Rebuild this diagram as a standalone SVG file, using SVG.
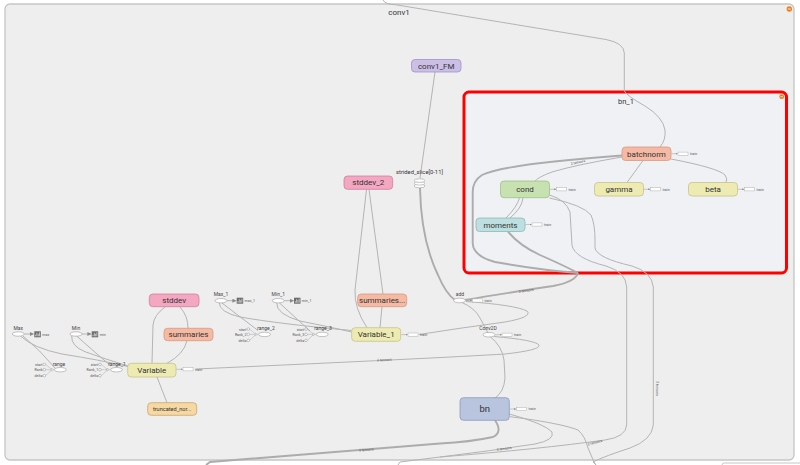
<svg xmlns="http://www.w3.org/2000/svg" width="800" height="465" viewBox="0 0 800 465">
  <style>
    .lbl { font-family: Roboto, "Liberation Sans", sans-serif; fill: #333; text-anchor: middle; }
    .node { font-size: 8px; }
    .op { font-size: 5px; fill: #444; }
    .tiny { font-size: 3.6px; fill: #555; font-family: Roboto, "Liberation Sans", sans-serif; }
    .e { fill: none; stroke: #b4b4b4; stroke-width: 1; }
    .ew { fill: none; stroke: #acacac; stroke-width: 1.9; }
    .box { stroke-width: 0.8; }
    .salmon { fill: #f6b9a3; stroke: #d69a83; }
    .green { fill: #c7e1b0; stroke: #a0bf88; }
    .yellow { fill: #eeebb2; stroke: #c7c28b; }
    .teal { fill: #bddfdf; stroke: #8fb7b7; }
    .purple { fill: #cbbfe6; stroke: #a093c7; }
    .pink { fill: #f3a7c1; stroke: #d07f9c; }
    .orange { fill: #f6d8a3; stroke: #c9a66c; }
    .blue { fill: #b9c4df; stroke: #8b99bd; }
    .opnode { fill: #ffffff; stroke: #9a9a9a; stroke-width: 0.6; }
    .const { fill: #ffffff; stroke: #8a8a8a; stroke-width: 0.5; }
    .trainbox { fill: #ffffff; stroke: #b0b0b0; stroke-width: 0.5; }
    .trainline { stroke: #9a9a9a; stroke-width: 0.5; fill: none; }
    .icon { fill: #6b6b6b; }
  </style>
  <defs>
    <marker id="tip" viewBox="0 0 10 10" refX="9" refY="5" markerWidth="4" markerHeight="4" orient="auto">
      <path d="M0,0 L10,5 L0,10 z" fill="#8a8a8a"/>
    </marker>
    <!-- "train" summary stub drawn to the right of a node -->
    <g id="train">
      <line class="trainline" x1="0" y1="0" x2="6" y2="0" marker-end="url(#tip)"/>
      <rect class="trainbox" x="6.5" y="-1.6" width="10" height="3.2"/>
      <text class="tiny" x="18.5" y="1.3">train</text>
    </g>
    <!-- summary icon (square with bar chart) -->
    <g id="sumicon">
      <rect class="icon" x="0" y="-3" width="6.5" height="6"/>
      <path d="M1.3,2 L1.3,0.5 M2.6,2 L2.6,-1.5 M3.9,2 L3.9,-0.5 M5.2,2 L5.2,-2" stroke="#fff" stroke-width="0.6"/>
    </g>
    <!-- range op with start / rank / delta inputs -->
    <g id="rangeinputs">
      <circle class="const" cx="0" cy="-5.3" r="1.3"/>
      <circle class="const" cx="0" cy="0" r="1.3"/>
      <circle class="const" cx="0" cy="6" r="1.3"/>
      <path d="M1.3,-5.3 L7,-0.6 M1.3,0 L7,0 M1.3,6 L7,0.6" stroke="#9a9a9a" stroke-width="0.4" fill="none"/>
      <path d="M7,-1.4 L7,1.4 L9,0 z" fill="#fff" stroke="#8a8a8a" stroke-width="0.4"/>
      <line x1="9" y1="0" x2="10" y2="0" stroke="#9a9a9a" stroke-width="0.4"/>
    </g>
  </defs>

  <!-- page -->
  <rect x="0" y="0" width="800" height="465" fill="#ffffff"/>

  <!-- conv1 scope -->
  <g id="conv1">
    <rect x="5" y="4" width="789" height="456" rx="5" fill="#eeeeee" stroke="#c6c6c6" stroke-width="1.3"/>
    <text class="lbl" x="399" y="15" font-size="8" fill="#444">conv1</text>
    <circle cx="789.3" cy="9" r="2.7" fill="#f27d16"/>
    <line x1="787.8" y1="9" x2="790.8" y2="9" stroke="#fff" stroke-width="0.8"/>
  </g>

  <!-- outline of the neighbouring scope below -->
  <path d="M722,465 L722,465 Q722,463 724.5,463 L800,463" fill="none" stroke="#c6c6c6" stroke-width="1"/>

  <!-- bn_1 scope (highlighted) -->
  <g id="bn_1">
    <rect x="464" y="92" width="322.5" height="181" rx="5" fill="#eff1f5" stroke="#ff0000" stroke-width="3"/>
    <text class="lbl" x="626" y="104" font-size="7.5" fill="#444">bn_1</text>
    <circle cx="781.7" cy="96.7" r="2.4" fill="#f27d16"/>
    <line x1="780.4" y1="96.7" x2="783" y2="96.7" stroke="#fff" stroke-width="0.7"/>
  </g>

  <!-- connectors -->
  <g id="edges">
    <!-- into bn_1 from outside the conv1 scope -->
    <path class="e" stroke-width="1.2" d="M383,0 Q385,4.5 396,4.8 L606,39.5 Q624,43 624.3,53 L624.3,91 Q627,96 645,106 Q663,117 665,130 Q666,140 660,147"/>

    <!-- conv1_FM -> strided_slice -> add -->
    <path class="e" d="M435,72 L420,178"/>
    <path class="ew" d="M420,188 Q421,240 438,275 Q446,294 455,300"/>

    <!-- bn_1 internal -->
    <path class="e" d="M622,157 Q575,165 552,172 Q538,177 534,182"/>
    <text class="tiny" transform="translate(571,165) rotate(-12)">2 tensors</text>
    <path class="e" d="M643,160.5 L627,182.5"/>
    <path class="e" d="M671,159 Q718,168 725,175 Q728,179 726,182.5"/>
    <path class="ew" stroke-width="1.6" d="M622,155.5 C560,160 500,166 482,175 Q472.7,181 472.7,192 L472.7,243 Q473,256 495,262 Q540,270 578,273"/>
    <path class="e" d="M523,197.8 Q522,208 510,218"/>
    <path class="e" d="M519.5,197.8 Q517,207 506,218"/>
    <path class="ew" stroke-width="1.5" d="M508,231.7 Q520,246 540,255 Q565,266 578,273"/>

    <!-- cond -> out of bn_1 -->
    <path class="e" d="M549.5,195 Q566,200 570,212 L572,245 Q574,258 606,266 Q626,272 626.7,287 L626.7,425 Q626,437 605,440 Q540,449 440,457 L400,462 L398,465"/>
    <path class="e" d="M549.5,198 Q583,205 591,215 Q595,224 595,240 L595,248 Q597,258 632,266 Q652,272 653.3,287 L653.3,425 Q652,440 630,448 Q605,456 593,462 L596,465"/>
    <text class="tiny" transform="translate(655.5,381) rotate(90)">3 tensors</text>
    <text class="tiny" transform="translate(588,445.5) rotate(-14)">2 tensors</text>

    <!-- bn_1 -> add -->
    <path class="ew" stroke-width="1.6" d="M578,273 Q575,282 553,286 Q500,294 465,300"/>
    <text class="tiny" transform="translate(519,293) rotate(-9)">2 tensors</text>

    <!-- add -> Conv2D -> bn -->
    <path class="e" stroke-width="1.3" d="M461,302 Q475,308 480,318 Q485,327 488,333"/>
    <path class="e" stroke-width="1.3" d="M490,336.5 Q502,346 504,360 L505,378 Q504,392 495,398"/>

    <!-- train loops back to the variables -->
    <path class="e" d="M466,301.5 Q515,305 527,311 Q533,317 505,322 Q460,328 419,334.5"/>
    <path class="e" d="M494,336.5 Q535,340 539,345 Q541,350 505,354 Q440,358 196,369"/>
    <text class="tiny" transform="translate(377,361.5) rotate(-3)">3 tensors</text>

    <!-- bn out -->
    <path class="ew" stroke-width="1.6" d="M495,420.3 Q503,432 493,437 Q470,442 440,443.5 L210,462 L206,465"/>
    <text class="tiny" transform="translate(359,451.5) rotate(-4)">3 tensors</text>
    <path class="e" d="M509.5,414 Q545,424 552,432 Q555,440 535,444 Q490,451 440,457"/>
    <text class="tiny" transform="translate(497,451) rotate(-9)">2 tensors</text>
    <path class="e" d="M510,416.7 Q560,423 578,430 Q585,436 588,448 L594,462 L596,465"/>

    <!-- stddev_2 / summaries... -> Variable_1 -->
    <path class="e" d="M366.5,189.5 L355,290 Q354,308 367,327.7"/>
    <path class="e" d="M369,189.5 L383,294"/>
    <path class="e" d="M382,306.7 L380,327.7"/>

    <!-- Max_1 / Min_1 -->
    <path class="e" stroke-width="0.6" d="M227,300.7 L236,300.7" marker-end="url(#tip)"/>
    <path class="e" stroke-width="0.6" d="M284.5,300.7 L293.5,300.7" marker-end="url(#tip)"/>
    <path class="e" stroke-width="0.7" d="M221.7,302.8 L258,330.5"/>
    <path class="e" stroke-width="0.7" d="M219.3,302.8 Q219,312 240,317 Q280,324 351.7,330.5"/>
    <path class="e" stroke-width="0.7" d="M279.3,302.8 L310,331"/>
    <path class="e" stroke-width="0.7" d="M276.7,302.8 Q276,314 300,321 Q330,327 351.7,332"/>

    <!-- Max / Min -->
    <path class="e" stroke-width="0.6" d="M24.5,334 L33.5,334" marker-end="url(#tip)"/>
    <path class="e" stroke-width="0.6" d="M82,334 L91,334" marker-end="url(#tip)"/>
    <path class="e" stroke-width="0.7" d="M23,336 Q40,350 55,368"/>
    <path class="e" stroke-width="0.7" d="M20.5,336 Q33,348 62,354 Q100,360 128,366.5"/>
    <path class="e" stroke-width="0.7" d="M76.7,336 Q90,348 111,366"/>
    <path class="e" stroke-width="0.7" d="M71.7,336 Q71,346 85,351.7 Q105,359 128,366"/>

    <!-- stddev / summaries / Variable / truncated_nor... -->
    <path class="e" d="M165,307 Q154,315 153,325 L152,363.3"/>
    <path class="e" d="M180,307 Q188,316 188,328.3"/>
    <path class="e" d="M187,340.7 Q184,354 167,363.3"/>
    <path class="e" d="M157,377 L167,402.7"/>
  </g>

  <!-- nodes -->
  <g id="conv1_FM">
    <rect class="box purple" x="411.5" y="59.5" width="49.5" height="12.5" rx="3.5"/>
    <text class="lbl node" x="436.2" y="68.6">conv1_FM</text>
  </g>

  <g id="strided_slice">
    <text class="lbl" x="419.5" y="173.5" font-size="5.8" fill="#444">strided_slice[0-11]</text>
    <ellipse class="opnode" cx="419.5" cy="186" rx="5.5" ry="1.8"/>
    <ellipse class="opnode" cx="419.5" cy="183.3" rx="5.5" ry="1.8"/>
    <ellipse class="opnode" cx="419.5" cy="180.6" rx="5.5" ry="1.8"/>
  </g>

  <g id="stddev_2">
    <rect class="box pink" x="344" y="176" width="48.7" height="13.3" rx="3.5"/>
    <text class="lbl node" x="368.3" y="185.4">stddev_2</text>
  </g>

  <g id="batchnorm">
    <rect class="box salmon" x="622" y="147" width="49" height="13.5" rx="3.5"/>
    <text class="lbl node" x="646.5" y="156.6">batchnorm</text>
    <use href="#train" x="671.5" y="153.7"/>
  </g>

  <g id="cond">
    <rect class="box green" x="500.5" y="181" width="49" height="16.7" rx="3.5"/>
    <text class="lbl node" x="525" y="192.2">cond</text>
    <use href="#train" x="550" y="189.3"/>
  </g>

  <g id="gamma">
    <rect class="box yellow" x="594.5" y="182.5" width="49" height="13.5" rx="3.5"/>
    <text class="lbl node" x="619" y="192">gamma</text>
    <use href="#train" x="644" y="189.3"/>
  </g>

  <g id="beta">
    <rect class="box yellow" x="688.5" y="182.5" width="49" height="13.5" rx="3.5"/>
    <text class="lbl node" x="713" y="192">beta</text>
    <use href="#train" x="738" y="189.3"/>
  </g>

  <g id="moments">
    <rect class="box teal" x="476" y="218" width="49" height="13.5" rx="3.5"/>
    <text class="lbl node" x="500.5" y="227.6">moments</text>
    <use href="#train" x="525.5" y="224.5"/>
  </g>

  <g id="add">
    <text class="lbl op" x="460" y="295.5">add</text>
    <ellipse class="opnode" cx="459.5" cy="300.5" rx="6" ry="2.3"/>
    <use href="#train" x="466" y="300.5"/>
  </g>

  <g id="Conv2D">
    <text class="lbl op" x="488" y="330">Conv2D</text>
    <ellipse class="opnode" cx="489" cy="334.7" rx="6" ry="2.3"/>
    <use href="#train" x="495.5" y="334.7"/>
  </g>

  <g id="bn">
    <rect class="box blue" x="460" y="397.7" width="49.3" height="22.6" rx="3.5"/>
    <text class="lbl" x="484.7" y="412.3" font-size="9.5">bn</text>
    <use href="#train" x="510" y="409"/>
  </g>

  <g id="summaries_1">
    <rect class="box salmon" x="357.7" y="294" width="49" height="12.7" rx="3.5"/>
    <text class="lbl node" x="382.2" y="303.2">summaries...</text>
  </g>

  <g id="Variable_1">
    <rect class="box yellow" x="351.7" y="327.7" width="49" height="13.6" rx="3.5"/>
    <text class="lbl node" x="376.2" y="337.4">Variable_1</text>
    <use href="#train" x="401.5" y="334.6"/>
  </g>

  <g id="Max_1">
    <text class="lbl op" x="221" y="296">Max_1</text>
    <ellipse class="opnode" cx="221" cy="300.7" rx="6" ry="2.2"/>
    <use href="#sumicon" x="236.7" y="300.7"/>
    <text class="tiny" x="244.6" y="302">max_1</text>
  </g>

  <g id="Min_1">
    <text class="lbl op" x="278.3" y="296">Min_1</text>
    <ellipse class="opnode" cx="278.3" cy="300.7" rx="6" ry="2.2"/>
    <use href="#sumicon" x="294" y="300.7"/>
    <text class="tiny" x="301.8" y="302">min_1</text>
  </g>

  <g id="range_2">
    <text class="lbl op" x="266" y="330">range_2</text>
    <use href="#rangeinputs" x="248.3" y="334.4"/>
    <ellipse class="opnode" cx="264.5" cy="334.4" rx="6" ry="2.2"/>
    <text class="tiny" x="246.5" y="330.6" text-anchor="end">start</text>
    <text class="tiny" x="246.5" y="335.7" text-anchor="end">Rank_2</text>
    <text class="tiny" x="246.5" y="341.7" text-anchor="end">delta</text>
  </g>

  <g id="range_3">
    <text class="lbl op" x="323" y="330">range_3</text>
    <use href="#rangeinputs" x="306" y="334.4"/>
    <ellipse class="opnode" cx="322.2" cy="334.4" rx="6" ry="2.2"/>
    <text class="tiny" x="304.2" y="330.6" text-anchor="end">start</text>
    <text class="tiny" x="304.2" y="335.7" text-anchor="end">Rank_3</text>
    <text class="tiny" x="304.2" y="341.7" text-anchor="end">delta</text>
  </g>

  <g id="Max">
    <text class="lbl op" x="18.3" y="329.5">Max</text>
    <ellipse class="opnode" cx="18.3" cy="334" rx="6" ry="2.2"/>
    <use href="#sumicon" x="34.3" y="334.3"/>
    <text class="tiny" x="42.3" y="335.6">max</text>
  </g>

  <g id="Min">
    <text class="lbl op" x="76" y="329.5">Min</text>
    <ellipse class="opnode" cx="76" cy="334" rx="6" ry="2.2"/>
    <use href="#sumicon" x="91.7" y="334.3"/>
    <text class="tiny" x="99.7" y="335.6">min</text>
  </g>

  <g id="range">
    <text class="lbl op" x="59" y="365.5">range</text>
    <use href="#rangeinputs" x="44.3" y="369.7"/>
    <ellipse class="opnode" cx="60.3" cy="369.7" rx="6" ry="2.2"/>
    <text class="tiny" x="42.5" y="365.9" text-anchor="end">start</text>
    <text class="tiny" x="42.5" y="371" text-anchor="end">Rank</text>
    <text class="tiny" x="42.5" y="377" text-anchor="end">delta</text>
  </g>

  <g id="range_1">
    <text class="lbl op" x="117" y="365.5">range_1</text>
    <use href="#rangeinputs" x="100" y="369.7"/>
    <ellipse class="opnode" cx="116.5" cy="369.7" rx="6" ry="2.2"/>
    <text class="tiny" x="98.2" y="365.9" text-anchor="end">start</text>
    <text class="tiny" x="98.2" y="371" text-anchor="end">Rank_1</text>
    <text class="tiny" x="98.2" y="377" text-anchor="end">delta</text>
  </g>

  <g id="stddev">
    <rect class="box pink" x="149.3" y="294" width="49.7" height="12.7" rx="3.5"/>
    <text class="lbl node" x="174.2" y="303.2">stddev</text>
  </g>

  <g id="summaries">
    <rect class="box salmon" x="164" y="328.3" width="49" height="12.4" rx="3.5"/>
    <text class="lbl node" x="188.5" y="337.4">summaries</text>
  </g>

  <g id="Variable">
    <rect class="box yellow" x="127.7" y="363.3" width="48.3" height="13.7" rx="3.5"/>
    <text class="lbl node" x="151.8" y="373">Variable</text>
    <use href="#train" x="176.5" y="369.3"/>
  </g>

  <g id="truncated_normal">
    <rect class="box orange" x="147.7" y="402.7" width="49" height="12.6" rx="3.5"/>
    <text class="lbl" x="172.2" y="411" font-size="5.6">truncated_nor...</text>
  </g>
</svg>
